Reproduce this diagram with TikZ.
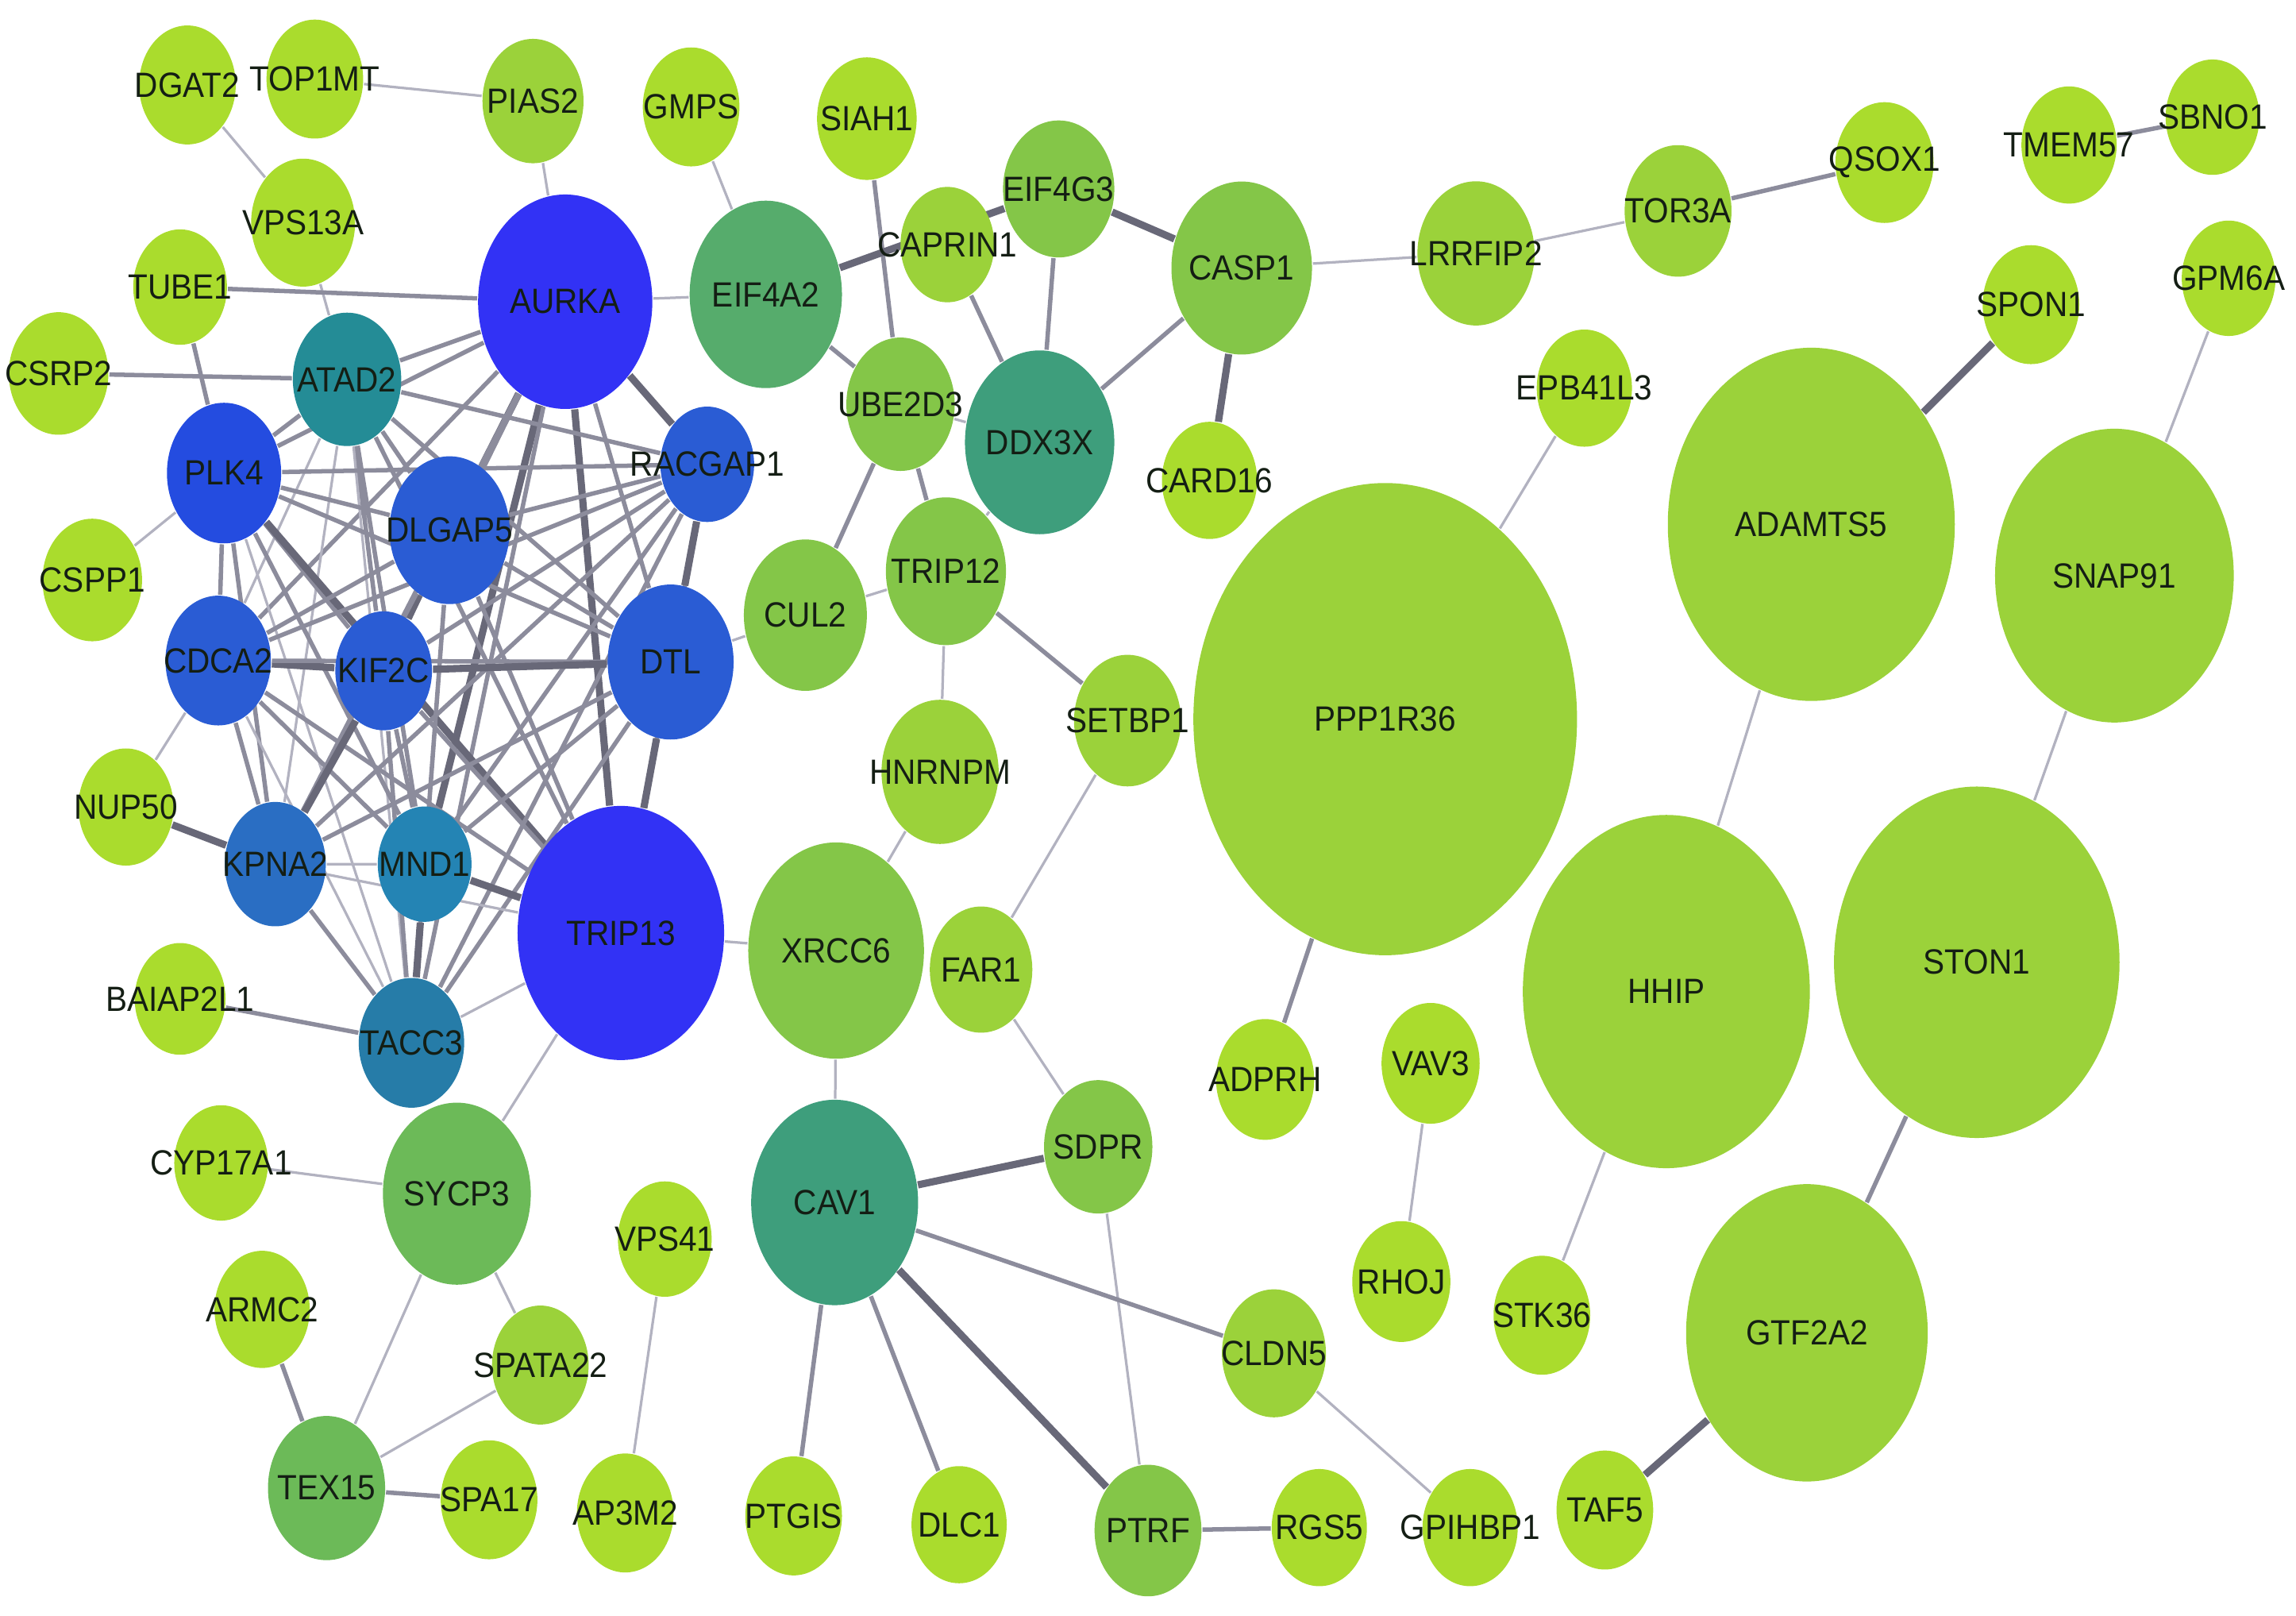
\documentclass[tikz,border=0pt]{standalone}
\usepackage{fontspec}
\setmainfont{Liberation Sans}[FakeStretch=0.92]
\usepackage{tikz}
\usetikzlibrary{shapes.geometric}
\definecolor{gA}{RGB}{170,220,45}
\definecolor{gB}{RGB}{155,210,58}
\definecolor{gC}{RGB}{132,198,72}
\definecolor{gD}{RGB}{108,186,88}
\definecolor{gE}{RGB}{86,172,108}
\definecolor{gF}{RGB}{62,158,124}
\definecolor{tAtad}{RGB}{36,140,150}
\definecolor{tMnd}{RGB}{36,132,180}
\definecolor{tTacc}{RGB}{38,124,168}
\definecolor{blK}{RGB}{42,110,195}
\definecolor{blB}{RGB}{42,92,212}
\definecolor{blP}{RGB}{36,76,224}
\definecolor{blA}{RGB}{50,50,245}
\definecolor{lnkA}{RGB}{178,178,192}
\definecolor{lnkB}{RGB}{140,140,156}
\definecolor{lnkC}{RGB}{104,104,120}
\definecolor{txtc}{RGB}{20,30,20}
\newcommand{\genefont}{\fontsize{6.8}{7}\selectfont}
\pgfdeclarelayer{bg}
\pgfsetlayers{bg,main}
\tikzset{
  gene/.style n args={3}{ellipse, inner sep=0pt, fill=#2, minimum width=#1*0.01cm, minimum height=#1*0.0123cm, label={[genetxt]center:#3}},
  genetxt/.style={font=\genefont, text=txtc, inner sep=0pt},
  lnkthin/.style={draw=lnkA, line width=0.5pt},
  lnkmid/.style={draw=lnkB, line width=0.85pt},
  lnkthick/.style={draw=lnkC, line width=1.4pt},
}

\begin{document}
\begin{tikzpicture}[x=0.01cm, y=-0.01cm]
\useasboundingbox (0,0) rectangle (1568,1103);
% top row
\node[gene={66}{gA}{DGAT2}] (dgat2) at (128,58) {};
\node[gene={66}{gA}{TOP1MT}] (top1mt) at (215,54) {};
\node[gene={69}{gB}{PIAS2}] (pias2) at (364,69) {};
\node[gene={66}{gA}{GMPS}] (gmps) at (472,73) {};
\node[gene={68}{gA}{SIAH1}] (siah1) at (592,81) {};
\node[gene={76}{gC}{EIF4G3}] (eif4g3) at (723,129) {};
\node[gene={96}{gC}{CASP1}] (casp1) at (848,183) {};
\node[gene={80}{gB}{LRRFIP2}] (lrrfip2) at (1008,173) {};
\node[gene={73}{gB}{TOR3A}] (tor3a) at (1146,144) {};
\node[gene={67}{gA}{QSOX1}] (qsox1) at (1287,111) {};
\node[gene={65}{gA}{TMEM57}] (tmem57) at (1413,99) {};
\node[gene={64}{gA}{SBNO1}] (sbno1) at (1511,80) {};
\node[gene={64}{gA}{GPM6A}] (gpm6a) at (1522,190) {};
\node[gene={66}{gA}{SPON1}] (spon1) at (1387,208) {};
\node[gene={71}{gA}{VPS13A}] (vps13a) at (207,152) {};
\node[gene={64}{gA}{TUBE1}] (tube1) at (123,196) {};
\node[gene={68}{gA}{CSRP2}] (csrp2) at (40,255) {};
\node[gene={68}{gA}{CSPP1}] (cspp1) at (63,396) {};
\node[gene={65}{gA}{NUP50}] (nup50) at (86,551) {};
\node[gene={62}{gA}{BAIAP2L1}] (baiap2l1) at (123,682) {};
% cluster
\node[gene={119}{blA}{AURKA}] (aurka) at (386,206) {};
\node[gene={74}{tAtad}{ATAD2}] (atad2) at (237,259) {};
\node[gene={78}{blP}{PLK4}] (plk4) at (153,323) {};
\node[gene={64}{blB}{RACGAP1}] (racgap1) at (483,317) {};
\node[gene={82}{blB}{DLGAP5}] (dlgap5) at (307,362) {};
\node[gene={72}{blB}{CDCA2}] (cdca2) at (149,451) {};
\node[gene={66}{blB}{KIF2C}] (kif2c) at (262,458) {};
\node[gene={86}{blB}{DTL}] (dtl) at (458,452) {};
\node[gene={69}{blK}{KPNA2}] (kpna2) at (188,590) {};
\node[gene={64}{tMnd}{MND1}] (mnd1) at (290,590) {};
\node[gene={141}{blA}{TRIP13}] (trip13) at (424,637) {};
\node[gene={72}{tTacc}{TACC3}] (tacc3) at (281,712) {};
% middle
\node[gene={104}{gE}{EIF4A2}] (eif4a2) at (523,201) {};
\node[gene={64}{gB}{CAPRIN1}] (caprin1) at (647,167) {};
\node[gene={74}{gC}{UBE2D3}] (ube2d3) at (615,276) {};
\node[gene={102}{gF}{DDX3X}] (ddx3x) at (710,302) {};
\node[gene={65}{gA}{CARD16}] (card16) at (826,328) {};
\node[gene={82}{gC}{TRIP12}] (trip12) at (646,390) {};
\node[gene={84}{gC}{CUL2}] (cul2) at (550,420) {};
\node[gene={73}{gB}{SETBP1}] (setbp1) at (770,492) {};
\node[gene={80}{gB}{HNRNPM}] (hnrnpm) at (642,527) {};
\node[gene={120}{gC}{XRCC6}] (xrcc6) at (571,649) {};
\node[gene={70}{gB}{FAR1}] (far1) at (670,662) {};
\node[gene={74}{gC}{SDPR}] (sdpr) at (750,783) {};
\node[gene={114}{gF}{CAV1}] (cav1) at (570,821) {};
\node[gene={71}{gB}{CLDN5}] (cldn5) at (870,924) {};
% right side
\node[gene={65}{gA}{EPB41L3}] (epb41l3) at (1082,265) {};
\node[gene={262}{gB}{PPP1R36}] (ppp1r36) at (946,491) {};
\node[gene={196}{gB}{ADAMTS5}] (adamts5) at (1237,358) {};
\node[gene={163}{gB}{SNAP91}] (snap91) at (1444,393) {};
\node[gene={196}{gB}{HHIP}] (hhip) at (1138,677) {};
\node[gene={195}{gB}{STON1}] (ston1) at (1350,657) {};
\node[gene={165}{gB}{GTF2A2}] (gtf2a2) at (1234,910) {};
\node[gene={67}{gA}{ADPRH}] (adprh) at (864,737) {};
\node[gene={67}{gA}{VAV3}] (vav3) at (977,726) {};
\node[gene={67}{gA}{RHOJ}] (rhoj) at (957,875) {};
\node[gene={66}{gA}{STK36}] (stk36) at (1053,898) {};
% bottom row
\node[gene={64}{gA}{CYP17A1}] (cyp17a1) at (151,794) {};
\node[gene={101}{gD}{SYCP3}] (sycp3) at (312,815) {};
\node[gene={64}{gA}{VPS41}] (vps41) at (454,846) {};
\node[gene={65}{gA}{ARMC2}] (armc2) at (179,894) {};
\node[gene={66}{gB}{SPATA22}] (spata22) at (369,932) {};
\node[gene={80}{gD}{TEX15}] (tex15) at (223,1016) {};
\node[gene={66}{gA}{SPA17}] (spa17) at (334,1024) {};
\node[gene={66}{gA}{AP3M2}] (ap3m2) at (427,1033) {};
\node[gene={66}{gA}{PTGIS}] (ptgis) at (542,1035) {};
\node[gene={65}{gA}{DLC1}] (dlc1) at (655,1041) {};
\node[gene={73}{gC}{PTRF}] (ptrf) at (784,1045) {};
\node[gene={65}{gA}{RGS5}] (rgs5) at (901,1043) {};
\node[gene={65}{gA}{GPIHBP1}] (gpihbp1) at (1004,1043) {};
\node[gene={66}{gA}{TAF5}] (taf5) at (1096,1031) {};

\begin{pgfonlayer}{bg}
% cluster links
\draw[lnkthick] (aurka) -- (dlgap5) (aurka) -- (racgap1) (aurka) -- (trip13) (aurka) -- (mnd1);
\draw[lnkmid] (aurka) -- (atad2) (aurka) -- (plk4) (aurka) -- (cdca2) (aurka) -- (kif2c) (aurka) -- (dtl) (aurka) -- (kpna2) (aurka) -- (tacc3);
\draw[lnkmid] (atad2) -- (plk4) (atad2) -- (racgap1) (atad2) -- (dlgap5) (atad2) -- (kif2c) (atad2) -- (dtl) (atad2) -- (mnd1) (atad2) -- (trip13);
\draw[lnkthin] (atad2) -- (cdca2) (atad2) -- (kpna2) (atad2) -- (tacc3);
\draw[lnkmid] (plk4) -- (racgap1) (plk4) -- (dlgap5) (plk4) -- (cdca2) (plk4) -- (kif2c) (plk4) -- (dtl) (plk4) -- (kpna2) (plk4) -- (mnd1);
\draw[lnkthick] (plk4) -- (trip13);
\draw[lnkthin] (plk4) -- (tacc3);
\draw[lnkmid] (racgap1) -- (dlgap5) (racgap1) -- (cdca2) (racgap1) -- (kif2c) (racgap1) -- (kpna2) (racgap1) -- (mnd1) (racgap1) -- (trip13) (racgap1) -- (tacc3);
\draw[lnkthick] (racgap1) -- (dtl);
\draw[lnkthick] (dlgap5) -- (kif2c);
\draw[lnkmid] (dlgap5) -- (cdca2) (dlgap5) -- (dtl) (dlgap5) -- (kpna2) (dlgap5) -- (mnd1) (dlgap5) -- (trip13) (dlgap5) -- (tacc3);
\draw[lnkthick] (cdca2) -- (kif2c);
\draw[lnkmid] (cdca2) -- (dtl) (cdca2) -- (kpna2) (cdca2) -- (mnd1) (cdca2) -- (trip13);
\draw[lnkthin] (cdca2) -- (tacc3);
\draw[lnkthick] (kif2c) -- (dtl) (kif2c) -- (kpna2);
\draw[lnkmid] (kif2c) -- (mnd1) (kif2c) -- (trip13) (kif2c) -- (tacc3);
\draw[lnkthick] (dtl) -- (trip13);
\draw[lnkmid] (dtl) -- (kpna2) (dtl) -- (mnd1) (dtl) -- (tacc3);
\draw[lnkthin] (kpna2) -- (mnd1) (kpna2) -- (trip13);
\draw[lnkmid] (kpna2) -- (tacc3);
\draw[lnkthick] (mnd1) -- (trip13) (mnd1) -- (tacc3);
\draw[lnkthin] (trip13) -- (tacc3);
% other links
\draw[lnkthin] (dgat2) -- (vps13a) (pias2) -- (aurka) (gmps) -- (eif4a2) (vps13a) -- (atad2) (cspp1) -- (plk4) (aurka) -- (eif4a2);
\draw[lnkthin] (top1mt) -- (pias2);
\draw[lnkmid] (tube1) -- (aurka) (tube1) -- (plk4) (csrp2) -- (atad2);
\draw[lnkthin] (nup50) -- (cdca2) (dtl) -- (cul2) (trip13) -- (xrcc6) (trip13) -- (sycp3);
\draw[lnkthick] (nup50) -- (kpna2);
\draw[lnkmid] (baiap2l1) -- (tacc3);
\draw[lnkmid] (siah1) -- (ube2d3) (eif4g3) -- (ddx3x) (caprin1) -- (ddx3x) (casp1) -- (ddx3x) (eif4a2) -- (ube2d3);
\draw[lnkthick] (eif4a2) -- (eif4g3) (eif4g3) -- (casp1) (casp1) -- (card16);
\draw[lnkthin] (casp1) -- (lrrfip2) (lrrfip2) -- (tor3a);
\draw[lnkmid] (tor3a) -- (qsox1) (tmem57) -- (sbno1);
\draw[lnkmid] (ube2d3) -- (cul2) (ube2d3) -- (trip12) (trip12) -- (setbp1);
\draw[lnkthin] (ube2d3) -- (ddx3x) (cul2) -- (trip12) (trip12) -- (ddx3x) (trip12) -- (hnrnpm) (hnrnpm) -- (xrcc6) (xrcc6) -- (cav1);
\draw[lnkthin] (setbp1) -- (far1) (far1) -- (sdpr) (sdpr) -- (ptrf) (cldn5) -- (gpihbp1);
\draw[lnkthick] (cav1) -- (sdpr) (cav1) -- (ptrf);
\draw[lnkmid] (cav1) -- (cldn5) (cav1) -- (ptgis) (cav1) -- (dlc1) (ptrf) -- (rgs5);
\draw[lnkmid] (ppp1r36) -- (adprh);
\draw[lnkthin] (ppp1r36) -- (epb41l3) (snap91) -- (gpm6a) (adamts5) -- (hhip) (snap91) -- (ston1) (hhip) -- (stk36) (vav3) -- (rhoj);
\draw[lnkthick] (adamts5) -- (spon1) (gtf2a2) -- (taf5);
\draw[lnkmid] (ston1) -- (gtf2a2);
\draw[lnkthin] (sycp3) -- (cyp17a1) (sycp3) -- (spata22) (sycp3) -- (tex15) (tex15) -- (spata22) (vps41) -- (ap3m2);
\draw[lnkmid] (armc2) -- (tex15) (tex15) -- (spa17);
\end{pgfonlayer}
\end{tikzpicture}
\end{document}
